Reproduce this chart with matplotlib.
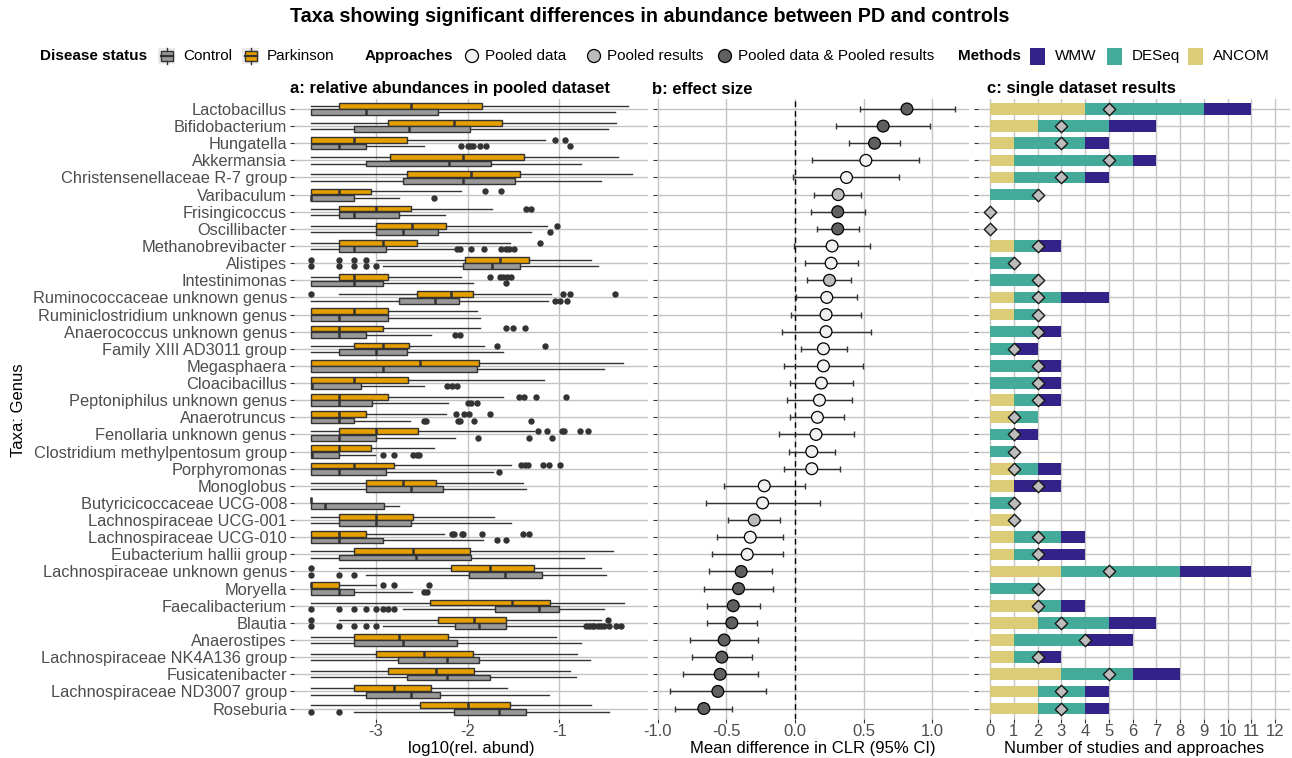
import matplotlib
matplotlib.use("Agg")
import matplotlib.pyplot as plt
from matplotlib.patches import Rectangle, Circle
from matplotlib.lines import Line2D
import numpy as np

plt.rcParams['font.family'] = ['Liberation Sans', 'DejaVu Sans']
plt.rcParams['axes.unicode_minus'] = False

taxa = ["Lactobacillus", "Bifidobacterium", "Hungatella", "Akkermansia",
        "Christensenellaceae R-7 group", "Varibaculum", "Frisingicoccus",
        "Oscillibacter", "Methanobrevibacter", "Alistipes", "Intestinimonas",
        "Ruminococcaceae unknown genus", "Ruminiclostridium unknown genus",
        "Anaerococcus unknown genus", "Family XIII AD3011 group", "Megasphaera",
        "Cloacibacillus", "Peptoniphilus unknown genus", "Anaerotruncus",
        "Fenollaria unknown genus", "Clostridium methylpentosum group",
        "Porphyromonas", "Monoglobus", "Butyricicoccaceae UCG-008",
        "Lachnospiraceae UCG-001", "Lachnospiraceae UCG-010",
        "Eubacterium hallii group", "Lachnospiraceae unknown genus", "Moryella",
        "Faecalibacterium", "Blautia", "Anaerostipes",
        "Lachnospiraceae NK4A136 group", "Fusicatenibacter",
        "Lachnospiraceae ND3007 group", "Roseburia"]

# box stats: whisker low, q1, median, q3, whisker high  (log10 rel. abund)
pd_stats = [
    [-3.70, -3.40, -2.62, -1.84, -0.25], [-3.70, -2.86, -2.15, -1.63, -0.38],
    [-3.70, -3.70, -3.23, -2.66, -1.16], [-3.70, -2.84, -2.05, -1.39, -0.36],
    [-3.70, -2.66, -1.96, -1.43, -0.21], [-3.70, -3.70, -3.40, -3.05, -2.07],
    [-3.70, -3.40, -3.00, -2.62, -1.73], [-3.70, -3.00, -2.60, -2.23, -1.13],
    [-3.70, -3.40, -2.92, -2.55, -1.54], [-2.99, -2.03, -1.65, -1.33, -0.66],
    [-3.70, -3.40, -3.23, -2.86, -2.07], [-3.40, -2.55, -2.18, -1.94, -1.09],
    [-3.70, -3.70, -3.23, -2.86, -1.90], [-3.70, -3.70, -3.40, -2.92, -1.86],
    [-3.70, -3.23, -2.92, -2.64, -1.82], [-3.70, -3.70, -2.52, -1.87, -0.31],
    [-3.70, -3.70, -3.23, -2.65, -1.17], [-3.70, -3.70, -3.40, -2.86, -1.61],
    [-3.70, -3.70, -3.40, -3.10, -2.23], [-3.70, -3.40, -3.00, -2.54, -1.28],
    [-3.70, -3.70, -3.40, -3.05, -2.36], [-3.70, -3.70, -3.23, -2.80, -1.53],
    [-3.70, -3.10, -2.70, -2.34, -1.40], [-3.70, -3.70, -3.70, -3.70, -3.70],
    [-3.70, -3.40, -3.00, -2.59, -1.71], [-3.70, -3.70, -3.40, -3.10, -2.26],
    [-3.70, -3.23, -2.59, -1.97, -0.42], [-3.40, -2.18, -1.75, -1.28, -0.55],
    [-3.70, -3.70, -3.70, -3.40, -3.00], [-3.70, -2.41, -1.52, -1.10, -0.30],
    [-3.40, -2.32, -1.93, -1.58, -0.55], [-3.70, -3.23, -2.75, -2.21, -1.04],
    [-3.70, -3.00, -2.47, -1.94, -0.81], [-3.70, -2.86, -2.34, -1.93, -0.88],
    [-3.70, -3.23, -2.80, -2.40, -1.57], [-3.70, -2.52, -1.99, -1.54, -0.66]]
pd_out = [
    [], [], [-1.05, -0.94], [], [], [-1.81, -1.64], [-1.36, -1.31], [-1.03],
    [-1.21], [-3.70, -3.40, -3.23, -3.10], [-1.76, -1.65, -1.61, -1.57, -1.53],
    [-3.70, -0.96, -0.88, -0.39], [], [-1.58, -1.51, -1.37], [-1.68, -1.16],
    [], [], [-1.44, -1.39, -1.25, -0.93], [-2.13, -2.04, -1.98, -1.76],
    [-1.23, -1.14, -0.97, -0.95, -0.78, -0.69], [],
    [-1.42, -1.37, -1.34, -1.18, -1.11, -0.99], [], [], [],
    [-2.17, -2.15, -2.06, -2.05, -1.84, -1.40, -1.33], [], [-3.70], [-2.92, -2.80, -2.42],
    [], [-3.70, -0.47], [], [], [], [], []]

ctrl_stats = [
    [-3.70, -3.70, -3.10, -2.32, -0.39], [-3.70, -3.23, -2.64, -1.97, -0.47],
    [-3.70, -3.70, -3.40, -3.10, -2.47], [-3.70, -3.10, -2.20, -1.74, -0.77],
    [-3.70, -2.70, -2.05, -1.48, -0.55], [-3.70, -3.70, -3.70, -3.23, -2.75],
    [-3.70, -3.40, -3.23, -2.75, -2.24], [-3.70, -3.00, -2.70, -2.32, -1.31],
    [-3.70, -3.40, -3.23, -2.89, -2.15], [-2.92, -2.05, -1.73, -1.43, -0.58],
    [-3.70, -3.70, -3.23, -2.92, -1.94], [-3.70, -2.75, -2.35, -2.09, -1.12],
    [-3.70, -3.70, -3.40, -2.86, -1.86], [-3.70, -3.70, -3.40, -3.10, -2.40],
    [-3.70, -3.40, -3.00, -2.66, -1.61], [-3.70, -3.70, -2.92, -1.90, -0.52],
    [-3.70, -3.70, -3.69, -3.16, -2.47], [-3.70, -3.70, -3.40, -3.04, -2.21],
    [-3.70, -3.70, -3.40, -3.23, -2.63], [-3.70, -3.70, -3.40, -3.00, -2.14],
    [-3.70, -3.70, -3.69, -3.40, -3.01], [-3.70, -3.70, -3.40, -2.89, -1.72],
    [-3.70, -3.10, -2.62, -2.27, -1.36], [-3.70, -3.70, -3.55, -2.91, -2.75],
    [-3.70, -3.40, -3.00, -2.62, -1.53], [-3.70, -3.70, -3.40, -2.92, -1.83],
    [-3.70, -3.40, -2.56, -1.96, -0.73], [-3.10, -1.98, -1.59, -1.19, -0.49],
    [-3.70, -3.70, -3.40, -3.23, -2.60], [-2.70, -1.70, -1.22, -1.00, -0.52],
    [-2.92, -2.14, -1.88, -1.58, -0.73], [-3.70, -3.23, -2.70, -2.11, -0.77],
    [-3.70, -2.76, -2.22, -1.87, -0.67], [-3.70, -2.66, -2.22, -1.76, -0.82],
    [-3.70, -3.10, -2.62, -2.30, -1.11], [-3.23, -2.15, -1.66, -1.36, -0.46]]
ctrl_out = [
    [], [], [-2.07, -2.00, -1.97, -1.94, -1.86, -1.80, -0.89], [], [], [-2.36],
    [], [-1.10], [-2.11, -2.08, -1.96, -1.82, -1.64, -1.58, -1.55, -1.49],
    [-3.70, -3.40, -3.23, -3.10, -3.00], [-1.58], [-1.05, -0.99, -0.92], [],
    [-2.14, -2.08], [], [], [-2.22, -2.17, -2.11], [-2.00, -1.96, -1.90],
    [-2.47, -2.45, -2.10, -2.08, -1.93, -1.31], [-1.89, -1.33, -1.08],
    [-2.92, -2.80, -2.59, -2.55, -2.53], [-1.66], [], [], [], [-1.68, -1.58],
    [], [-3.70, -3.40, -3.23], [-2.47, -2.44],
    [-3.70, -3.40, -3.23, -3.10, -3.00, -2.92, -2.86, -2.80],
    [-3.70, -3.40, -3.23, -3.10, -3.00, -0.71, -0.68, -0.65, -0.62, -0.58,
     -0.55, -0.52, -0.46, -0.38, -0.33],
    [], [], [], [], [-3.70, -3.40]]

# effect size (mean difference in CLR, 95% CI)
eff_mean = [0.815, 0.642, 0.579, 0.516, 0.375, 0.314, 0.311, 0.311, 0.270, 0.263,
            0.251, 0.231, 0.226, 0.226, 0.207, 0.207, 0.192, 0.178, 0.163, 0.153,
            0.122, 0.122, -0.224, -0.236, -0.297, -0.326, -0.348, -0.392, -0.411,
            -0.450, -0.460, -0.516, -0.533, -0.545, -0.562, -0.664]
eff_lo = [0.472, 0.299, 0.392, 0.127, -0.012, 0.141, 0.114, 0.158, -0.007, 0.071,
          0.090, 0.005, -0.029, -0.095, 0.044, -0.083, -0.034, -0.058, -0.036,
          -0.119, -0.041, -0.083, -0.516, -0.650, -0.487, -0.567, -0.603, -0.623,
          -0.664, -0.642, -0.642, -0.764, -0.749, -0.818, -0.912, -0.871]
eff_hi = [1.168, 0.983, 0.762, 0.905, 0.759, 0.484, 0.513, 0.467, 0.547, 0.457,
          0.411, 0.453, 0.484, 0.550, 0.375, 0.494, 0.423, 0.416, 0.360, 0.426,
          0.292, 0.331, 0.075, 0.180, -0.107, -0.085, -0.090, -0.165, -0.158,
          -0.255, -0.277, -0.270, -0.316, -0.270, -0.209, -0.457]
approach = ["both", "both", "both", "data", "data", "results", "both", "both",
            "data", "data", "results", "data", "data", "data", "data", "data",
            "data", "data", "data", "data", "data", "data", "data", "data",
            "results", "data", "data", "both", "both", "both", "both", "both",
            "both", "both", "both", "both"]

# single dataset results
n_ancom = [4, 2, 1, 1, 1, 0, 0, 0, 1, 0, 0, 1, 1, 0, 0, 0, 0, 1, 1, 0, 0, 1, 1, 0,
           1, 1, 1, 3, 0, 2, 2, 1, 1, 3, 2, 2]
n_deseq = [5, 3, 3, 5, 3, 2, 0, 0, 1, 1, 2, 2, 1, 2, 1, 2, 2, 1, 1, 1, 1, 1, 0, 1,
           0, 2, 1, 5, 2, 1, 3, 3, 1, 3, 2, 2]
n_wmw = [2, 2, 1, 1, 1, 0, 0, 0, 1, 0, 0, 2, 0, 1, 1, 1, 1, 1, 0, 1, 0, 1, 2, 0,
         0, 1, 2, 3, 0, 1, 2, 2, 1, 2, 1, 1]
n_studies = [5, 3, 3, 5, 3, 2, 0, 0, 2, 1, 2, 2, 2, 2, 1, 2, 2, 2, 1, 1, 1, 1, 2, 1,
             1, 2, 2, 5, 2, 2, 3, 4, 2, 5, 3, 3]

C_PD, C_CT = '#E69F00', '#999999'
C_WMW, C_DES, C_ANC = '#332288', '#44AA99', '#DDCC77'
APP_COL = {"data": '#F0F0F0', "results": '#BBBBBB', "both": '#606060'}
GRID = '#C4C4C4'
DARK = '#333333'

W, H = 1292, 758
fig = plt.figure(figsize=(W / 100, H / 100), dpi=100)
top_px, bot_px = 98.7, 718.8
bottom = 1 - bot_px / H
height = (bot_px - top_px) / H
ax_a = fig.add_axes([294 / W, bottom, 354 / W, height])
ax_b = fig.add_axes([657 / W, bottom, 312 / W, height])
ax_c = fig.add_axes([978 / W, bottom, 312 / W, height])

y = np.arange(len(taxa))

for ax in (ax_a, ax_b, ax_c):
    for s in ax.spines.values():
        s.set_visible(False)
    ax.set_axisbelow(True)
    ax.grid(True, color=GRID, lw=1)
    ax.set_ylim(len(taxa) - 0.4, -0.6)
    ax.set_yticks(y)
    ax.tick_params(axis='both', length=3, width=0.8, color=DARK,
                   labelsize=12, labelcolor='#4D4D4D', pad=1)
    ax.tick_params(axis='y', labelsize=11.8, pad=2)

# ---- panel a: boxplots
def stats(rows, outs):
    return [dict(whislo=r[0], q1=r[1], med=r[2], q3=r[3], whishi=r[4], fliers=o)
            for r, o in zip(rows, outs)]

def boxes(ax, data, pos, color):
    kw = dict(positions=pos, widths=0.34, patch_artist=True, showcaps=False,
              boxprops=dict(facecolor=color, edgecolor=DARK, linewidth=1),
              medianprops=dict(color=DARK, linewidth=1.8),
              whiskerprops=dict(color=DARK, linewidth=1),
              flierprops=dict(marker='o', markerfacecolor=DARK, markeredgecolor=DARK,
                              markersize=3.6))
    try:
        ax.bxp(data, orientation='horizontal', **kw)
    except TypeError:
        ax.bxp(data, vert=False, **kw)

boxes(ax_a, stats(pd_stats, pd_out), y - 0.1875, C_PD)
boxes(ax_a, stats(ctrl_stats, ctrl_out), y + 0.1875, C_CT)
ax_a.set_yticks(y)
ax_a.set_yticklabels(taxa)
ax_a.set_ylim(len(taxa) - 0.4, -0.6)
ax_a.set_xlim(-3.888, -0.036)
ax_a.set_xticks([-3, -2, -1])
ax_a.set_xticklabels(["-3", "-2", "-1"])
ax_a.set_xlabel("log10(rel. abund)", fontsize=12, labelpad=1)

# ---- panel b: effect size
m = np.array(eff_mean)
ax_b.axvline(0, color='black', lw=1, ls=(0, (4, 3)), zorder=1)
ax_b.errorbar(m, y, xerr=[m - np.array(eff_lo), np.array(eff_hi) - m], fmt='none',
              ecolor=DARK, elinewidth=1, capsize=2.5, capthick=1, zorder=2)
ax_b.scatter(m, y, s=72, c=[APP_COL[a] for a in approach], edgecolors='black',
             linewidths=0.9, zorder=3)
ax_b.set_xlim(-1.005, 1.267)
ax_b.set_xticks([-1, -0.5, 0, 0.5, 1])
ax_b.set_xticklabels(["-1.0", "-0.5", "0.0", "0.5", "1.0"])
ax_b.set_yticklabels([])
ax_b.set_xlabel("Mean difference in CLR (95% CI)", fontsize=12, labelpad=1)

# ---- panel c: single dataset results
anc, des, wmw = np.array(n_ancom), np.array(n_deseq), np.array(n_wmw)
ax_c.barh(y, anc, height=0.68, color=C_ANC, zorder=2)
ax_c.barh(y, des, left=anc, height=0.68, color=C_DES, zorder=2)
ax_c.barh(y, wmw, left=anc + des, height=0.68, color=C_WMW, zorder=2)
ax_c.scatter(n_studies, y, marker='D', s=40, color='#BDBDBD', edgecolors='#1A1A1A',
             linewidths=1, zorder=3)
ax_c.set_xlim(-0.505, 12.63)
ax_c.set_xticks(range(13))
ax_c.set_yticklabels([])
ax_c.set_xlabel("Number of studies and approaches", fontsize=12, labelpad=1)

# ---- titles
fig.text(650 / W, 1 - 17 / H, "Taxa showing significant differences in abundance between PD and controls",
         ha='center', va='center', fontsize=14.2, fontweight='bold')
for xpx, txt in [(290, "a: relative abundances in pooled dataset"),
                 (652, "b: effect size"), (987, "c: single dataset results")]:
    fig.text(xpx / W, 1 - 89 / H, txt, ha='left', va='center', fontsize=12, fontweight='bold')
fig.text(19 / W, 1 - 410 / H, "Taxa: Genus", rotation=90, ha='center', va='center', fontsize=12)

# ---- legend (drawn in pixel space)
lax = fig.add_axes([0, 0, 1, 1], zorder=-1)
lax.set_xlim(0, W)
lax.set_ylim(H, 0)
lax.axis('off')
ly = 56

def ltext(x, s, bold=False):
    lax.text(x, ly, s, ha='left', va='center', fontsize=11,
             fontweight='bold' if bold else 'normal')

def box_key(x, color):
    lax.add_patch(Rectangle((x, ly - 8), 17, 16, facecolor='#EBEBEB', edgecolor='none'))
    lax.add_patch(Rectangle((x + 2.5, ly - 5), 12, 10, facecolor=color, edgecolor=DARK, lw=1))
    lax.add_line(Line2D([x + 2.5, x + 14.5], [ly, ly], color=DARK, lw=1.6))
    lax.add_line(Line2D([x + 8.5, x + 8.5], [ly - 8, ly - 5], color=DARK, lw=1))
    lax.add_line(Line2D([x + 8.5, x + 8.5], [ly + 5, ly + 8], color=DARK, lw=1))

ltext(40, "Disease status", True)
box_key(158, C_CT)
ltext(183, "Control")
box_key(242, C_PD)
ltext(267, "Parkinson")

ltext(365, "Approaches", True)
for cx, key, lab in [(472, "data", "Pooled data"), (594, "results", "Pooled results"),
                     (725, "both", "Pooled data & Pooled results")]:
    lax.add_patch(Circle((cx, ly), 6.5, facecolor=APP_COL[key], edgecolor='black', lw=0.9))
    ltext(cx + 13, lab)

ltext(958, "Methods", True)
for sx, col, lab in [(1030, C_WMW, "WMW"), (1107, C_DES, "DESeq"), (1188, C_ANC, "ANCOM")]:
    lax.add_patch(Rectangle((sx, ly - 8), 15, 17, facecolor=col, edgecolor='none'))
    ltext(sx + 25, lab)

fig.savefig("out.png", dpi=100)
